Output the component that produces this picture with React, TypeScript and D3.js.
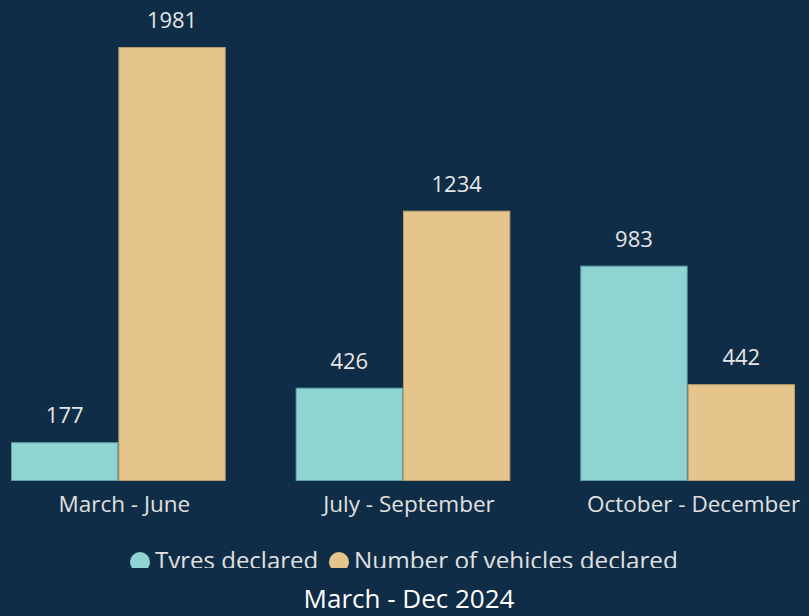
import React from "react";
import * as d3 from "d3";

const categories = ["March - June", "July - September", "October - December"];
const seriesNames = ["Tyres declared", "Number of vehicles declared"];
const tyres = [177, 426, 983];
const vehicles = [1981, 1234, 442];
const colors = ["#8fd3d2", "#e5c58c"];
const strokes = ["#5fa3a6", "#b89c6c"];
const title = "March - Dec 2024";

const W = 809;
const H = 616;
const BG = "#0f2d46";
const FONT = "'Open Sans', 'Noto Sans', sans-serif";

export default function App() {
  const x0 = d3.scaleBand<string>().domain(categories).range([11, 795]).paddingInner(70 / 285).paddingOuter(0);
  const x1 = d3.scaleBand<string>().domain(seriesNames).range([0, x0.bandwidth()]);
  const y = d3.scaleLinear().domain([0, 1981]).range([481, 47]);
  const series = [tyres, vehicles];

  return (
    <div style={{ position: "fixed", left: 0, top: 0, width: W, height: H, background: BG }}>
      <svg width={W} height={H} style={{ display: "block" }}>
        <defs>
          <clipPath id="legclip">
            <rect x={0} y={530} width={W} height={38} />
          </clipPath>
        </defs>
        <rect width={W} height={H} fill={BG} />
        {categories.map((c, i) => (
          <g key={c} transform={`translate(${x0(c)},0)`}>
            {seriesNames.map((s, j) => {
              const v = series[j][i];
              const bx = x1(s)!;
              const bw = x1.bandwidth();
              return (
                <g key={s}>
                  <rect x={bx + 0.5} y={y(v) + 0.5} width={bw - 1} height={y(0) - y(v) - 1}
                    fill={colors[j]} stroke={strokes[j]} strokeWidth={1} />
                  <text x={bx + bw / 2} y={y(v) - 19} textAnchor="middle" fill="#e6e6e6"
                    fontFamily={FONT} fontSize={22}>{v}</text>
                </g>
              );
            })}
            <text x={x0.bandwidth() / 2 + 6} y={512} textAnchor="middle" fill="#e0e0e0"
              fontFamily={FONT} fontSize={22.5}>{c}</text>
          </g>
        ))}
        <g clipPath="url(#legclip)">
          <circle cx={140} cy={562} r={10} fill={colors[0]} />
          <text x={155} y={569} fill="#e0e0e0" fontFamily={FONT} fontSize={24}>{seriesNames[0]}</text>
          <circle cx={339} cy={562} r={10} fill={colors[1]} />
          <text x={354} y={569} fill="#e0e0e0" fontFamily={FONT} fontSize={24.3}>{seriesNames[1]}</text>
        </g>
        <text x={409} y={608} textAnchor="middle" fill="#ffffff" fontFamily={FONT} fontSize={26}>{title}</text>
      </svg>
    </div>
  );
}
